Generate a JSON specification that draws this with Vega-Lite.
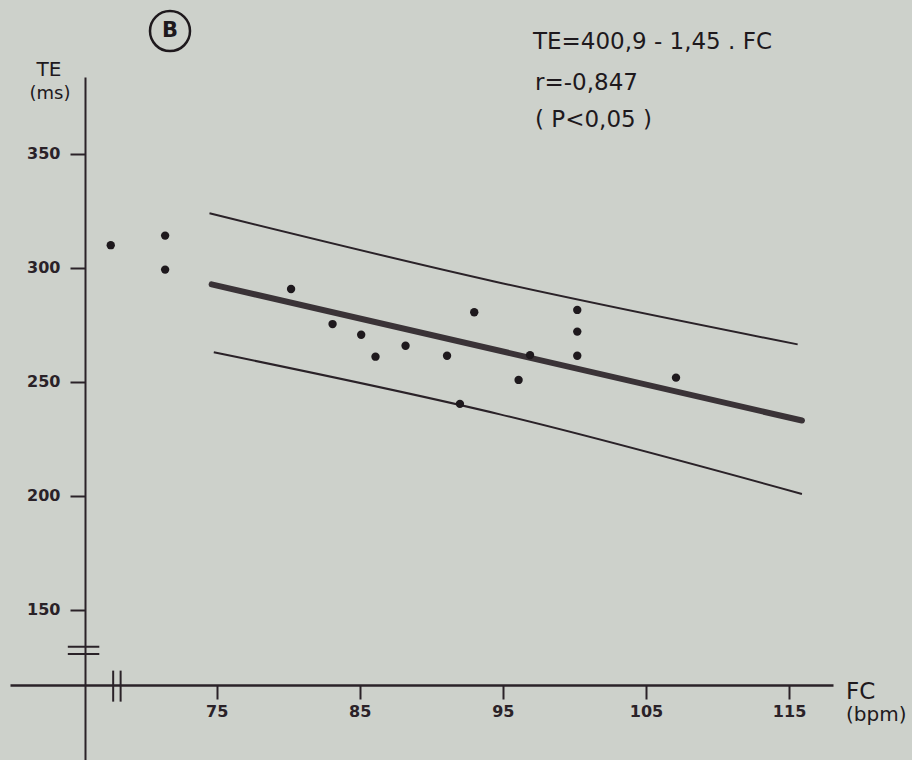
{
  "$schema": "https://vega.github.io/schema/vega-lite/v6.json",
  "width": 823,
  "height": 683,
  "autosize": {"type": "none"},
  "padding": {"left": 10, "top": 77, "right": 79, "bottom": 0},
  "background": "#cdd1cb",
  "config": {"view": {"stroke": null}, "font": "DejaVu Sans"},
  "datasets": {
    "points": [
      {"x": 67.6, "y": 310.0},
      {"x": 71.4, "y": 314.2},
      {"x": 71.4, "y": 299.3},
      {"x": 80.2, "y": 290.8},
      {"x": 83.1, "y": 275.4},
      {"x": 85.1, "y": 270.7},
      {"x": 86.1, "y": 261.1},
      {"x": 88.2, "y": 265.9},
      {"x": 91.1, "y": 261.5},
      {"x": 92.0, "y": 240.4},
      {"x": 93.0, "y": 280.6},
      {"x": 96.1, "y": 250.9},
      {"x": 96.9, "y": 261.8},
      {"x": 100.2, "y": 281.6},
      {"x": 100.2, "y": 272.1},
      {"x": 100.2, "y": 261.5},
      {"x": 107.1, "y": 251.9}
    ],
    "regression": [
      {"x": 74.65, "y": 292.8},
      {"x": 115.9, "y": 233.1}
    ],
    "bands": [
      {"band": "upper", "x": 74.5, "y": 324.0},
      {"band": "upper", "x": 94.4, "y": 294.1},
      {"band": "upper", "x": 115.6, "y": 266.5},
      {"band": "lower", "x": 74.8, "y": 263.0},
      {"band": "lower", "x": 94.8, "y": 235.8},
      {"band": "lower", "x": 115.9, "y": 200.9}
    ],
    "breaks": [
      {"x": 64.6, "x2": 66.8, "y": 133.9, "y2": 133.9},
      {"x": 64.6, "x2": 66.8, "y": 130.7, "y2": 130.7},
      {"x": 67.77, "x2": 67.77, "y": 123.4, "y2": 109.8},
      {"x": 68.29, "x2": 68.29, "y": 123.4, "y2": 109.8}
    ],
    "equation": [
      {"x": 97.1, "y": 399.1, "text": "TE=400,9 - 1,45 . FC"},
      {"x": 97.25, "y": 381.1, "text": "r=-0,847"},
      {"x": 97.25, "y": 364.9, "text": "( P<0,05 )"}
    ],
    "ytitle": [
      {"x": 63.28, "y": 387.0, "text": "TE"}
    ],
    "yunit": [
      {"x": 63.35, "y": 376.3, "text": "(ms)"}
    ],
    "xtitle": [
      {"x": 118.98, "y": 114.0, "text": "FC"}
    ],
    "xunit": [
      {"x": 118.98, "y": 103.9, "text": "(bpm)"}
    ],
    "panel": [
      {"x": 71.74, "y": 403.9, "text": "B"}
    ]
  },
  "encoding": {
    "x": {
      "field": "x",
      "type": "quantitative",
      "scale": {"domain": [60.56, 118.07], "nice": false, "zero": false},
      "axis": {
        "orient": "bottom",
        "offset": -75,
        "values": [75, 85, 95, 105, 115],
        "title": null,
        "grid": false,
        "domainColor": "#2a2228",
        "domainWidth": 2.5,
        "tickColor": "#2a2228",
        "tickWidth": 2,
        "tickSize": 14,
        "labelColor": "#2a2228",
        "labelFont": "DejaVu Sans",
        "labelFontWeight": "bold",
        "labelFontSize": 16,
        "labelPadding": 4,
        "labelFlush": false,
        "labelOverlap": false
      }
    },
    "y": {
      "field": "y",
      "type": "quantitative",
      "scale": {"domain": [84.2, 383.77], "nice": false, "zero": false},
      "axis": {
        "orient": "left",
        "offset": -75,
        "values": [150, 200, 250, 300, 350],
        "title": null,
        "grid": false,
        "domainColor": "#2a2228",
        "domainWidth": 2,
        "tickColor": "#2a2228",
        "tickWidth": 2,
        "tickSize": 15,
        "labelColor": "#2a2228",
        "labelFont": "DejaVu Sans",
        "labelFontWeight": "bold",
        "labelFontSize": 16,
        "labelPadding": 10,
        "labelFlush": false,
        "labelOverlap": false
      }
    }
  },
  "layer": [
    {
      "data": {"name": "bands"},
      "mark": {"type": "line", "color": "#2a2228", "strokeWidth": 2, "interpolate": "monotone"},
      "encoding": {"detail": {"field": "band"}, "order": {"field": "x"}}
    },
    {
      "data": {"name": "regression"},
      "mark": {"type": "line", "color": "#3a3337", "strokeWidth": 6, "strokeCap": "round"},
      "encoding": {}
    },
    {
      "data": {"name": "points"},
      "mark": {"type": "point", "filled": true, "shape": "circle", "size": 70, "color": "#1e191d", "opacity": 1}
    },
    {
      "data": {"name": "breaks"},
      "mark": {"type": "rule", "color": "#2a2228", "strokeWidth": 2},
      "encoding": {"x2": {"field": "x2"}, "y2": {"field": "y2"}}
    },
    {
      "data": {"name": "equation"},
      "mark": {"type": "text", "align": "left", "baseline": "middle", "fontSize": 23, "font": "DejaVu Sans", "color": "#1e191d"},
      "encoding": {"text": {"field": "text"}}
    },
    {
      "data": {"name": "ytitle"},
      "mark": {"type": "text", "align": "center", "baseline": "middle", "fontSize": 20, "font": "DejaVu Sans", "color": "#1e191d"},
      "encoding": {"text": {"field": "text"}}
    },
    {
      "data": {"name": "yunit"},
      "mark": {"type": "text", "align": "center", "baseline": "middle", "fontSize": 18, "font": "DejaVu Sans", "color": "#1e191d"},
      "encoding": {"text": {"field": "text"}}
    },
    {
      "data": {"name": "xtitle"},
      "mark": {"type": "text", "align": "left", "baseline": "middle", "fontSize": 23, "font": "DejaVu Sans", "color": "#1e191d"},
      "encoding": {"text": {"field": "text"}}
    },
    {
      "data": {"name": "xunit"},
      "mark": {"type": "text", "align": "left", "baseline": "middle", "fontSize": 20, "font": "DejaVu Sans", "color": "#1e191d"},
      "encoding": {"text": {"field": "text"}}
    },
    {
      "data": {"name": "panel"},
      "mark": {"type": "point", "shape": "circle", "filled": false, "size": 1600, "strokeWidth": 2.5, "color": "#1e191d", "opacity": 1}
    },
    {
      "data": {"name": "panel"},
      "mark": {"type": "text", "align": "center", "baseline": "middle", "fontSize": 21, "fontWeight": "bold", "font": "DejaVu Sans", "color": "#1e191d"},
      "encoding": {"text": {"field": "text"}}
    }
  ]
}
